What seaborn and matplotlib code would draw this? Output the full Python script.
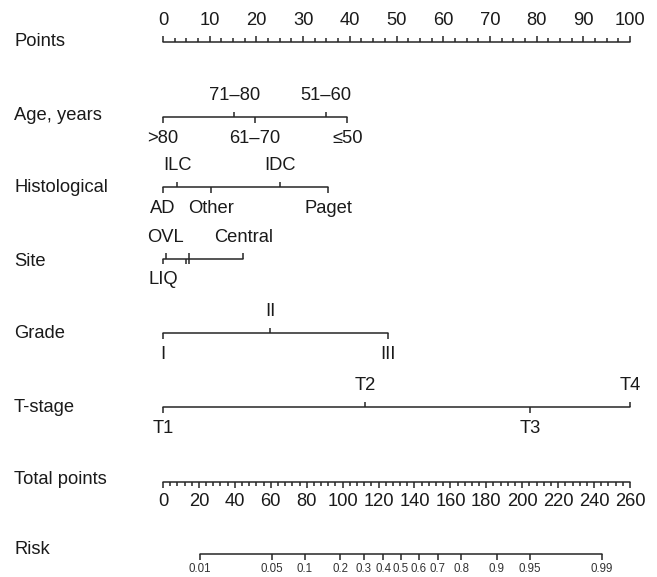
import numpy as np
import pandas as pd
import matplotlib
matplotlib.use("Agg")
import matplotlib.pyplot as plt
import seaborn as sns

# ---------------- data ----------------
points_major = list(range(0, 101, 10))
points_minor_step = 2.5

age_labels = [">80", "71\u201380", "61\u201370", "51\u201360", "\u226450"]
age_points = [0, 15.3, 19.6, 34.9, 39.5]

hist_labels = ["AD", "ILC", "Other", "IDC", "Paget"]
hist_points = [0, 3.1, 10.3, 25.1, 35.4]

site_labels = ["LIQ", "OVL", "LOQ", "UIQ", "UOQ", "Central"]
site_points = [0.05, 0.6, 4.9, 5.5, 5.6, 17.2]
site_shown = [True, True, False, False, False, True]

grade_labels = ["I", "II", "III"]
grade_points = [0, 22.9, 48.2]

tstage_labels = ["T1", "T2", "T3", "T4"]
tstage_points = [0, 43.3, 78.6, 100]

total_major = list(range(0, 261, 20))
total_minor_step = 4
total_max = 260

risk_ticks = [0.01, 0.05, 0.1, 0.2, 0.3, 0.4, 0.5, 0.6, 0.7, 0.8, 0.9, 0.95, 0.99]
risk_intercept = -5.442
risk_slope = 0.0411

row_names = ["Points", "Age, years", "Histological", "Site", "Grade",
             "T-stage", "Total points", "Risk"]

# ---------------- layout ----------------
W, H = 657, 577
PX0, PPP = 163.0, 4.67          # pixel of 0 points, pixels per point
line_y = [41.7, 117, 187, 258.5, 333, 407, 482, 554]
name_y = [42, 115, 187, 262, 333, 407, 480, 550]
OFF = 21.5
TXT = "#1a1a1a"
LC = "#262626"
LW = 1.1
FS = 13.2

sns.set_theme(style="white")
plt.rcParams["font.family"] = ["Liberation Sans", "DejaVu Sans"]

fig = plt.figure(figsize=(W / 100, H / 100), dpi=100)
ax = fig.add_axes([0, 0, 1, 1])
ax.set_xlim(-PX0 / PPP, (W - PX0) / PPP)
ax.set_ylim(H, 0)
ax.axis("off")


def hline(x0, x1, y):
    df = pd.DataFrame({"x": [x0, x1], "y": [y, y]})
    sns.lineplot(data=df, x="x", y="y", ax=ax, color=LC, lw=LW,
                 estimator=None, sort=False, legend=False)


def tick(x, y, length):
    ax.vlines(x, y, y + length, color=LC, lw=LW)


# row names
for name, y in zip(row_names, name_y):
    ax.text(-PX0 / PPP + 14 / PPP, y, name, ha="left", va="center",
            fontsize=FS, color=TXT)

# Points axis
y = line_y[0]
hline(0, 100, y)
for v in np.arange(0, 100.01, points_minor_step):
    major = any(abs(v - m) < 1e-6 for m in points_major)
    tick(v, y, -6 if major else -3.5)
for m in points_major:
    ax.text(m, y - OFF, str(m), ha="center", va="center", fontsize=FS, color=TXT)

# categorical predictors
cats = [(age_labels, age_points, None),
        (hist_labels, hist_points, None),
        (site_labels, site_points, site_shown),
        (grade_labels, grade_points, None),
        (tstage_labels, tstage_points, None)]
for i, (labs, pts, shown) in enumerate(cats):
    y = line_y[i + 1]
    hline(min(pts), max(pts), y)
    for j, (lab, p) in enumerate(zip(labs, pts)):
        above = (j % 2 == 1)
        tick(p, y, -5.5 if above else 5.5)
        if shown is not None and not shown[j]:
            continue
        ax.text(p, y - OFF if above else y + OFF, lab, ha="center",
                va="center", fontsize=FS, color=TXT)

# Total points axis
y = line_y[6]
scale = 100.0 / total_max
hline(0, 100, y)
for v in np.arange(0, total_max + 0.01, total_minor_step):
    major = any(abs(v - m) < 1e-6 for m in total_major)
    tick(v * scale, y, 6 if major else 3.5)
for m in total_major:
    ax.text(m * scale, y + 19.5, str(m), ha="center", va="center",
            fontsize=FS, color=TXT)

# Risk axis
y = line_y[7]
rpos = [(np.log(r / (1 - r)) - risk_intercept) / risk_slope * scale for r in risk_ticks]
hline(rpos[0], rpos[-1], y)
for r, p in zip(risk_ticks, rpos):
    tick(p, y, 5.5)
    ax.text(p, y + 15.5, f"{r:g}", ha="center", va="center",
            fontsize=8.3, color="#333333")

fig.savefig("out.png", dpi=100)
